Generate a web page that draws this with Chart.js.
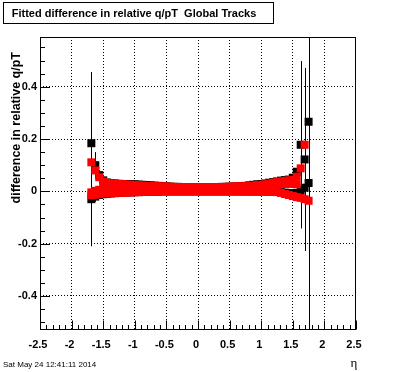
<!DOCTYPE html>
<html><head><meta charset="utf-8">
<script src="https://cdn.jsdelivr.net/npm/chart.js@4/dist/chart.umd.min.js"></script>
<style>html,body{margin:0;padding:0;background:#fff}canvas{display:block}</style>
</head><body>
<canvas id="c" width="396" height="372"></canvas>
<script>
// eta bin centres
const eta = [-1.6875,-1.625,-1.5625,-1.5,-1.4375,-1.375,-1.3125,-1.25,-1.1875,-1.125,-1.0625,-1,-0.9375,-0.875,-0.8125,-0.75,-0.6875,-0.625,-0.5625,-0.5,-0.4375,-0.375,-0.3125,-0.25,-0.1875,-0.125,-0.0625,0,0.0625,0.125,0.1875,0.25,0.3125,0.375,0.4375,0.5,0.5625,0.625,0.6875,0.75,0.8125,0.875,0.9375,1,1.0625,1.125,1.1875,1.25,1.3125,1.375,1.4375,1.5,1.5625,1.625,1.6875,1.75];

// red series (three branches)
const redHi = [0.111,0.080,0.054,0.038,0.032,0.030,0.029,0.028,0.027,0.026,0.025,0.024,0.023,0.022,0.021,0.020,0.020,0.019,0.019,0.018,0.018,0.017,0.017,0.016,0.016,0.016,0.016,0.016,0.016,0.016,0.016,0.016,0.016,0.017,0.017,0.018,0.018,0.019,0.019,0.020,0.021,0.022,0.024,0.025,0.027,0.030,0.033,0.036,0.038,0.040,0.042,0.044,0.056,0.088,0.178,null];
const redMid = [-0.004,0.002,0.006,0.009,0.010,0.011,0.011,0.011,0.011,0.010,0.010,0.010,0.010,0.009,0.009,0.009,0.009,0.009,0.008,0.008,0.008,0.008,0.008,0.008,0.008,0.008,0.008,0.008,0.008,0.008,0.008,0.008,0.008,0.008,0.008,0.008,0.008,0.009,0.009,0.009,0.010,0.010,0.011,0.012,0.016,0.020,0.024,0.027,0.028,0.028,0.028,0.028,0.027,null,null,null];
const redLo = [-0.015,-0.013,-0.010,-0.008,-0.007,-0.006,-0.006,-0.005,-0.005,-0.004,-0.004,-0.003,-0.003,-0.002,-0.002,-0.001,-0.001,-0.001,0,0,0,0,0,0,0,0,0,0,0,0,0,0,0,0,0,0,0,0,0,-0.001,-0.001,-0.001,-0.001,-0.001,-0.001,-0.002,-0.002,-0.003,-0.006,-0.010,-0.014,-0.018,-0.022,-0.025,-0.030,-0.036];

// black series (two branches) with errors
const blackHi = [0.184,0.100,0.062,0.042,0.034,0.031,0.030,0.029,0.028,0.028,0.027,0.027,0.026,0.025,0.024,0.023,0.022,0.021,0.020,0.019,0.018,0.017,0.017,0.016,0.016,0.016,0.016,0.016,0.016,0.016,0.016,0.016,0.016,0.017,0.017,0.018,0.018,0.019,0.020,0.021,0.023,0.025,0.027,0.028,0.030,0.033,0.035,0.038,0.041,0.043,0.045,0.052,0.075,0.178,0.122,0.266];
const blackHiErr = [0.272,0.050,0.020,0.010,0.006,0.005,0.005,0.004,0.004,0.004,0.004,0.004,0.004,0.004,0.004,0.004,0.004,0.004,0.004,0.004,0.004,0.004,0.004,0.004,0.004,0.004,0.004,0.004,0.004,0.004,0.004,0.004,0.004,0.004,0.004,0.004,0.004,0.004,0.004,0.004,0.004,0.004,0.004,0.004,0.004,0.004,0.004,0.005,0.005,0.005,0.006,0.008,0.020,0.320,0.350,0.900];
const blackLo = [-0.030,-0.020,-0.014,-0.011,-0.009,-0.008,-0.007,-0.006,-0.005,-0.004,-0.004,-0.003,-0.003,-0.002,-0.002,-0.001,-0.001,-0.001,0,0,0,0,0,0,0,0,0,0,0,0,0,0,0,0,0,0,0,0,0,0,0,0,0,0,0,0,0,-0.001,-0.003,-0.005,-0.007,-0.008,-0.006,0.004,0.014,0.032];
const blackLoErr = [0.180,0.020,0.008,0.005,0.004,0.004,0.004,0.004,0.004,0.004,0.004,0.004,0.004,0.004,0.004,0.004,0.004,0.004,0.004,0.004,0.004,0.004,0.004,0.004,0.004,0.004,0.004,0.004,0.004,0.004,0.004,0.004,0.004,0.004,0.004,0.004,0.004,0.004,0.004,0.004,0.004,0.004,0.004,0.004,0.004,0.004,0.004,0.004,0.004,0.004,0.004,0.004,0.005,0.008,0.010,0.015];

// axis ticks and texts
const xTicks = [-2.5,-2,-1.5,-1,-0.5,0,0.5,1,1.5,2,2.5];
const yTicks = [-0.4,-0.2,0,0.2,0.4];
const titleText = 'Fitted difference in relative q/pT  Global Tracks';
const yTitle = 'difference in relative q/pT';
const xTitle = 'η';
const dateText = 'Sat May 24 12:41:11 2014';

function pts(vals, errs) {
  const out = [];
  eta.forEach((x, i) => { if (vals[i] !== null) out.push({x: x, y: vals[i], e: errs ? errs[i] : 0}); });
  return out;
}

const R = 5.657; // rect marker -> 8px square
function ds(data, color, extra) {
  return Object.assign({data: data, backgroundColor: color, borderColor: color, borderWidth: 0,
    pointStyle: 'rect', pointRadius: R, pointHoverRadius: R, pointBorderWidth: 0}, extra || {});
}

const errPlugin = {
  id: 'errBars',
  afterDatasetDraw(chart, args) {
    const d = chart.data.datasets[args.index];
    if (!d.hasErr) return;
    const ctx = chart.ctx, xs = chart.scales.x, ys = chart.scales.y, a = chart.chartArea;
    ctx.save();
    ctx.strokeStyle = '#000'; ctx.lineWidth = 1;
    ctx.beginPath();
    d.data.forEach(p => {
      if (!p.e) return;
      const px = Math.round(xs.getPixelForValue(p.x)) + 0.5;
      let t = ys.getPixelForValue(p.y + p.e), b = ys.getPixelForValue(p.y - p.e);
      t = Math.max(t, a.top); b = Math.min(b, a.bottom);
      ctx.moveTo(px, t); ctx.lineTo(px, b);
    });
    ctx.stroke();
    ctx.restore();
  }
};

const rootPlugin = {
  id: 'rootFrame',
  afterDraw(chart) {
    const ctx = chart.ctx, xs = chart.scales.x, ys = chart.scales.y, a = chart.chartArea;
    ctx.save();
    ctx.strokeStyle = '#000'; ctx.lineWidth = 1;
    ctx.beginPath();
    // x ticks (inward)
    for (let k = -25; k <= 25; k++) {
      const v = k / 10;
      const px = Math.round(xs.getPixelForValue(v)) + 0.5;
      const len = (k % 5 === 0) ? 9 : 4.5;
      ctx.moveTo(px, a.bottom - 0.5); ctx.lineTo(px, a.bottom - 0.5 - len);
    }
    // y ticks (inward)
    for (let k = -10; k <= 11; k++) {
      const v = k * 0.05;
      const py = Math.round(ys.getPixelForValue(v)) + 0.5;
      const len = (k % 4 === 0) ? 10 : 5;
      ctx.moveTo(a.left, py); ctx.lineTo(a.left + len, py);
    }
    ctx.stroke();
    ctx.strokeRect(Math.round(a.left) + 0.5, Math.round(a.top) + 0.5, Math.round(a.right - a.left) - 1, Math.round(a.bottom - a.top) - 1);

    // title box
    ctx.fillStyle = '#fff';
    ctx.fillRect(3.5, 2.5, 270, 21);
    ctx.strokeRect(3.5, 2.5, 270, 21);
    ctx.fillStyle = '#000';
    ctx.font = 'bold 11px "Liberation Sans", Arial, sans-serif';
    ctx.textAlign = 'center'; ctx.textBaseline = 'alphabetic';
    ctx.fillText(titleText, 134, 16.5);

    // y title
    ctx.save();
    ctx.translate(19.5, 52);
    ctx.rotate(-Math.PI / 2);
    ctx.textAlign = 'right';
    ctx.font = 'bold 12.5px "Liberation Sans", Arial, sans-serif';
    ctx.fillText(yTitle, 0, 0);
    ctx.restore();

    // x title
    ctx.font = '13px "Liberation Serif", serif';
    ctx.textAlign = 'center';
    ctx.fillText(xTitle, 354, 367);

    // date
    ctx.font = '8px "Liberation Sans", Arial, sans-serif';
    ctx.textAlign = 'left';
    ctx.fillText(dateText, 3, 367);
    ctx.restore();
  }
};

const tickFont = {family: '"Liberation Sans", Arial, sans-serif', weight: 'bold', size: 11};

new Chart(document.getElementById('c'), {
  type: 'scatter',
  data: {
    datasets: [
      ds(pts(redHi), '#ff0000'),
      ds(pts(redMid), '#ff0000'),
      ds(pts(redLo), '#ff0000'),
      ds(pts(blackHi, blackHiErr), '#000000', {hasErr: true}),
      ds(pts(blackLo, blackLoErr), '#000000', {hasErr: true})
    ]
  },
  options: {
    responsive: false,
    animation: false,
    events: [],
    layout: {padding: {top: 37, right: 40, left: 0, bottom: 0}},
    plugins: {legend: {display: false}, title: {display: false}, tooltip: {enabled: false}},
    scales: {
      x: {
        type: 'linear', min: -2.5, max: 2.5,
        afterBuildTicks: s => { s.ticks = xTicks.map(v => ({value: v})); },
        afterFit: s => { s.height = 42; },
        ticks: {font: tickFont, color: '#000', padding: 8, labelOffset: -2, maxRotation: 0, autoSkip: false,
          callback: v => String(v)},
        grid: {color: c => (c.tick && Math.abs(Math.abs(c.tick.value) - 2.5) < 1e-9) ? 'rgba(0,0,0,0)' : '#000',
          lineWidth: 1, drawTicks: false},
        border: {display: false, dash: [1, 2]}
      },
      y: {
        type: 'linear', min: -0.53, max: 0.59,
        afterBuildTicks: s => { s.ticks = yTicks.map(v => ({value: v})); },
        afterFit: s => { s.width = 40; },
        ticks: {font: tickFont, color: '#000', padding: 3, callback: v => String(v)},
        grid: {color: '#000', lineWidth: 1, drawTicks: false},
        border: {display: false, dash: [1, 2]}
      }
    }
  },
  plugins: [errPlugin, rootPlugin]
});
</script>
</body></html>
